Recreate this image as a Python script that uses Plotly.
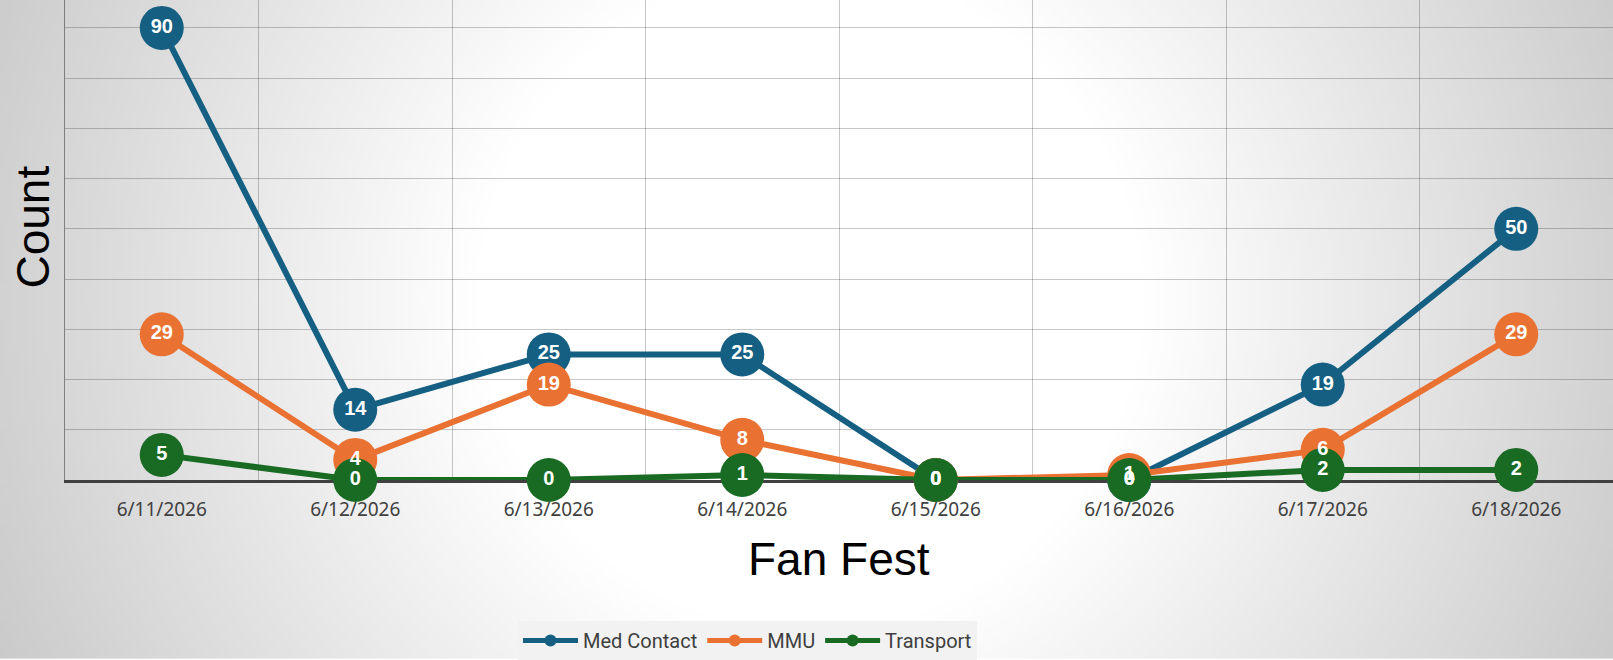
import base64
import struct
import zlib

import numpy as np
import plotly.graph_objects as go

# ---------------- data ----------------
dates = ["6/11/2026", "6/12/2026", "6/13/2026", "6/14/2026",
         "6/15/2026", "6/16/2026", "6/17/2026", "6/18/2026"]
med_contact = [90, 14, 25, 25, 0, 0, 19, 50]
mmu = [29, 4, 19, 8, 0, 1, 6, 29]
transport = [5, 0, 0, 1, 0, 0, 2, 2]

series = [
    ("Med Contact", med_contact, "#156082"),
    ("MMU", mmu, "#E97132"),
    ("Transport", transport, "#196B24"),
]

W, H = 1613, 660


# ---------------- radial-gradient background (decoration) ----------------
def gradient_png(w, h, scale=4, cx=810, cy=300, r0=330, r1=950, edge=196):
    gw, gh = w // scale, h // scale
    xs = (np.arange(gw) + 0.5) * w / gw
    ys = (np.arange(gh) + 0.5) * h / gh
    X, Y = np.meshgrid(xs, ys)
    d = np.hypot(X - cx, Y - cy)
    f = np.clip((d - r0) / (r1 - r0), 0, 1)
    v = (255 - f * (255 - edge)).round().astype(np.uint8)
    raw = b"".join(b"\x00" + v[r].tobytes() for r in range(gh))

    def chunk(t, data):
        return (struct.pack(">I", len(data)) + t + data
                + struct.pack(">I", zlib.crc32(t + data) & 0xFFFFFFFF))

    png = (b"\x89PNG\r\n\x1a\n"
           + chunk(b"IHDR", struct.pack(">IIBBBBB", gw, gh, 8, 0, 0, 0, 0))
           + chunk(b"IDAT", zlib.compress(raw, 9))
           + chunk(b"IEND", b""))
    return "data:image/png;base64," + base64.b64encode(png).decode()


# plot-area geometry in pixels
L, R, T, B = 65, 0, 0, 179
pw, ph = W - L - R, H - T - B

fig = go.Figure()

# markers + lines
for name, vals, color in series:
    fig.add_trace(go.Scatter(
        x=dates, y=vals, name=name, mode="lines+markers",
        line=dict(color=color, width=6),
        marker=dict(color=color, size=44),
        cliponaxis=False,
    ))

# data labels on top of everything
for name, vals, color in series:
    fig.add_trace(go.Scatter(
        x=dates, y=vals, mode="text", text=[str(v) for v in vals],
        textposition="middle center",
        textfont=dict(color="white", size=20, family="Liberation Sans",
                      weight="bold"),
        showlegend=False, hoverinfo="skip", cliponaxis=False,
    ))

fig.update_layout(
    width=W, height=H,
    margin=dict(l=L, r=R, t=T, b=B, pad=0),
    paper_bgcolor="white",
    plot_bgcolor="rgba(0,0,0,0)",
    images=[dict(
        source=gradient_png(W, H), xref="paper", yref="paper",
        x=-L / pw, y=1 + T / ph, sizex=W / pw, sizey=H / ph,
        xanchor="left", yanchor="top", sizing="stretch", layer="below",
    )],
    showlegend=True,
    legend=dict(
        orientation="h", x=(747.5 - L) / pw, xanchor="center",
        y=(ph - 622) / ph, yanchor="top",
        bgcolor="#f2f2f2", itemsizing="constant", itemwidth=55,
        font=dict(family="Roboto", size=20, color="#404040"),
    ),
    xaxis=dict(
        type="category", range=[-0.5, 7.5], tickson="boundaries",
        showgrid=True, gridcolor="rgba(0,0,0,0.22)", gridwidth=1,
        showline=True, linecolor="#404040", linewidth=3,
        ticks="", ticklabelstandoff=10,
        tickfont=dict(family="Noto Sans", size=19, color="#404040"),
        layer="below traces", zeroline=False, fixedrange=True,
    ),
    yaxis=dict(
        range=[0, ph / ((481 - 28) / 90)], dtick=10,
        showgrid=True, gridcolor="rgba(0,0,0,0.22)", gridwidth=1,
        showticklabels=False, zeroline=False,
        showline=True, linecolor="rgba(0,0,0,0.4)", linewidth=1,
        layer="below traces", fixedrange=True,
    ),
    annotations=[
        dict(text="Fan Fest", xref="paper", yref="paper",
             x=(839 - L) / pw, y=(ph - 560) / ph,
             xanchor="center", yanchor="middle", showarrow=False,
             font=dict(family="Liberation Sans", size=46, color="black")),
        dict(text="Count", xref="paper", yref="paper",
             x=(33 - L) / pw, y=(ph - 228) / ph, textangle=-90,
             xanchor="center", yanchor="middle", showarrow=False,
             font=dict(family="Liberation Sans", size=46, color="black")),
    ],
)

fig.write_html(
    "out.html",
    config={"displayModeBar": False},
    post_script="document.body.style.margin='0';"
                "document.body.style.padding='0';",
)
